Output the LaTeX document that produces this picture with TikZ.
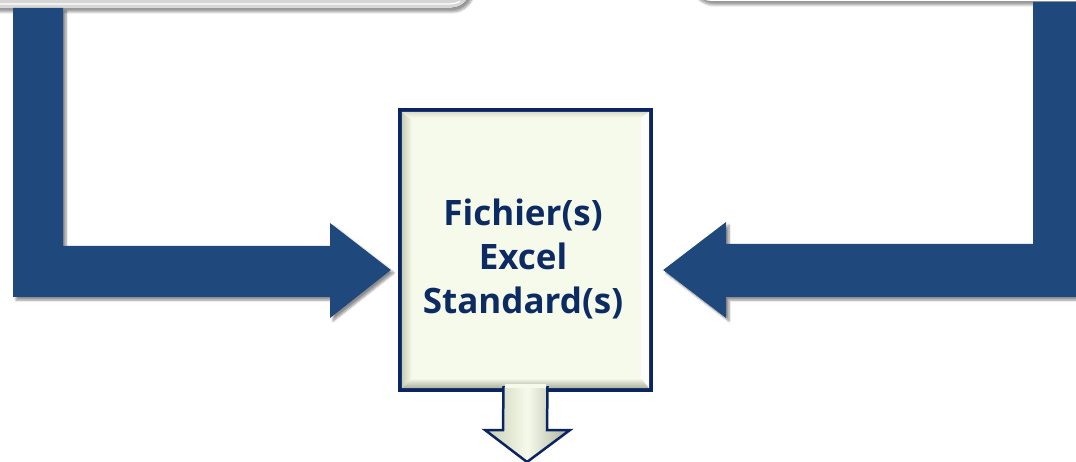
\documentclass[tikz,border=0pt]{standalone}
\usepackage{fontspec}
\setmainfont{Open Sans}
\usetikzlibrary{calc,shadows.blur}

\definecolor{arrowblue}{HTML}{1F497D}
\definecolor{navy}{HTML}{0B2563}
\definecolor{textnavy}{HTML}{0D2B63}
\definecolor{cream}{HTML}{F6FAEA}
\definecolor{bevelgray}{HTML}{C8CEB6}
\definecolor{beveldark}{HTML}{A9B09A}

\tikzset{
  bigarrow/.style={fill=arrowblue, draw=none,
    blur shadow={shadow xshift=3pt, shadow yshift=-3pt, shadow blur steps=6, shadow opacity=45}},
  framebottom/.style={rounded corners=22pt,
    blur shadow={shadow xshift=2pt, shadow yshift=-4pt, shadow blur steps=8, shadow opacity=40}},
  boxtext/.style={text=textnavy, font=\bfseries\fontsize{35}{44}\selectfont, align=center},
}

\begin{document}
\begin{tikzpicture}[x=1pt, y=-1pt]
  \useasboundingbox (0,0) rectangle (1076,462);
  \clip (0,0) rectangle (1076,462);

  % bottom edges of the two frames above the picture
  \fill[framebottom, bottom color=white!70!gray, top color=gray!60] (-40,-80) rectangle (472,8);
  \draw[white, line width=1.2pt] (-40,4) -- (450,4) arc[start angle=90, end angle=60, radius=20];
  \fill[framebottom, white] (690,-80) rectangle (1120,1);

  % central box with bevelled rim
  \node[draw=none, fill=navy, minimum width=255pt, minimum height=284pt, inner sep=0pt]
    (box) at (525.5,250) {};
  \fill[cream] ($(box.north west)+(4,4)$) rectangle ($(box.south east)+(-4,-4)$);
  % left bevel
  \shade[left color=bevelgray, right color=cream]
    ($(box.north west)+(4,4)$) -- ($(box.north west)+(14,12)$) -- ($(box.south west)+(14,-14)$) -- ($(box.south west)+(4,-4)$) -- cycle;
  % top bevel
  \shade[top color=bevelgray!60!cream, bottom color=cream]
    ($(box.north west)+(4,4)$) -- ($(box.north east)+(-4,4)$) -- ($(box.north east)+(-12,10)$) -- ($(box.north west)+(14,10)$) -- cycle;
  % bottom bevel
  \shade[top color=cream, bottom color=beveldark]
    ($(box.south west)+(4,-4)$) -- ($(box.south west)+(14,-14)$) -- ($(box.south east)+(-12,-14)$) -- ($(box.south east)+(-4,-4)$) -- cycle;
  % right highlight
  \fill[white]
    ($(box.north east)+(-4,4)$) -- ($(box.north east)+(-12,10)$) -- ($(box.south east)+(-12,-14)$) -- ($(box.south east)+(-4,-4)$) -- cycle;

  \node[boxtext] (label) at (523,259) {Fichier(s)\\Excel\\Standard(s)};

  % arrow from the left frame
  \coordinate (ltip) at ($(box.west)+(-7,20)$);
  \fill[bigarrow] (13,8) -- (63,8) -- (63,246) -- (330,246) -- (330,223)
    -- (ltip) -- (330,318) -- (330,297) -- (13,297) -- cycle;

  % arrow from the right frame
  \coordinate (rtip) at ($(box.east)+(10,20)$);
  \fill[bigarrow] (1033,2) -- (1090,2) -- (1090,297) -- (726,297) -- (726,318)
    -- (rtip) -- (726,222) -- (726,244) -- (1033,244) -- cycle;

  % downward outlet arrow
  \coordinate (dtop) at ($(box.south)+(0,-6)$);
  \coordinate (dtip) at (527,462);
  \shade[left color=bevelgray, right color=beveldark, middle color=cream, draw=navy, line width=2.5pt, line join=miter]
    ($(dtop)+(-22,0)$) -- (503,430) -- (485,430) -- (dtip) -- (570,430) -- (547,430) -- ($(dtop)+(22,0)$);
  \fill[cream] ($(dtop)+(-20.5,-2)$) rectangle ($(dtop)+(20.5,2)$);
\end{tikzpicture}
\end{document}
